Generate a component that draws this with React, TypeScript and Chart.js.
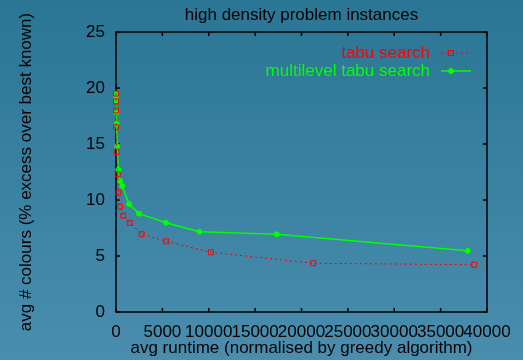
import React, { useEffect, useRef } from "react";
import { Chart, registerables } from "chart.js";

Chart.register(...registerables);

const titleText = "high density problem instances";
const xTitle = "avg runtime (normalised by greedy algorithm)";
const yTitle = "avg # colours (% excess over best known)";

const xTickValues = [0, 5000, 10000, 15000, 20000, 25000, 30000, 35000, 40000];
const yTickValues = [0, 5, 10, 15, 20, 25];

const tabuLabel = "tabu search";
const tabuX = [0, 0, 0, 0, 70, 180, 250, 430, 780, 1470, 2770, 5430, 10240, 21270, 38630];
const tabuY = [19.5, 18.8, 18.0, 16.5, 14.3, 12.3, 10.65, 9.4, 8.6, 7.97, 6.94, 6.31, 5.33, 4.35, 4.22];

const mlLabel = "multilevel tabu search";
const mlX = [0, 0, 0, 30, 70, 140, 250, 430, 680, 1400, 2480, 5390, 9000, 17330, 37920];
const mlY = [19.5, 19.3, 18.9, 17.8, 16.8, 14.8, 12.7, 11.7, 11.25, 9.64, 8.78, 7.97, 7.17, 6.94, 5.47];

const RED = "#ff0000";
const GREEN = "#00ff00";
const FONT = "'Liberation Sans', Arial, Helvetica, sans-serif";

const bgPlugin = {
  id: "bg",
  beforeDraw(chart: any) {
    const { ctx, width, height } = chart;
    const g = ctx.createLinearGradient(0, 0, 0, height);
    g.addColorStop(0, "#2a7694");
    g.addColorStop(1, "#4a8dae");
    ctx.save();
    ctx.fillStyle = g;
    ctx.fillRect(0, 0, width, height);
    ctx.restore();
  },
};

const framePlugin = {
  id: "frame",
  beforeDatasetsDraw(chart: any) {
    const { ctx, chartArea: a, scales } = chart;
    const tl = 4;
    ctx.save();
    ctx.strokeStyle = "#000";
    ctx.lineWidth = 1.5;
    ctx.strokeRect(a.left, a.top, a.right - a.left, a.bottom - a.top);
    ctx.beginPath();
    for (const v of xTickValues) {
      const px = scales.x.getPixelForValue(v);
      ctx.moveTo(px, a.bottom);
      ctx.lineTo(px, a.bottom - tl);
      ctx.moveTo(px, a.top);
      ctx.lineTo(px, a.top + tl);
    }
    for (const v of yTickValues) {
      const py = scales.y.getPixelForValue(v);
      ctx.moveTo(a.left, py);
      ctx.lineTo(a.left + tl, py);
      ctx.moveTo(a.right, py);
      ctx.lineTo(a.right - tl, py);
    }
    ctx.stroke();
    ctx.restore();
  },
  afterDraw(chart: any) {
    const { ctx } = chart;
    ctx.save();
    ctx.font = `17px ${FONT}`;
    ctx.textAlign = "right";
    ctx.textBaseline = "middle";
    const textRight = 430;
    const items = [
      { label: tabuLabel, color: RED, y: 53, dash: [2, 3], width: 1, marker: "rect" },
      { label: mlLabel, color: GREEN, y: 71, dash: [], width: 1.5, marker: "circle" },
    ];
    for (const it of items) {
      ctx.fillStyle = it.color;
      ctx.fillText(it.label, textRight, it.y);
      ctx.strokeStyle = it.color;
      ctx.lineWidth = it.width;
      ctx.setLineDash(it.dash);
      ctx.beginPath();
      ctx.moveTo(441, it.y);
      ctx.lineTo(471, it.y);
      ctx.stroke();
      ctx.setLineDash([]);
      ctx.lineWidth = 1;
      if (it.marker === "rect") {
        ctx.strokeRect(448.5, it.y - 2.5, 5, 5);
      } else {
        ctx.beginPath();
        ctx.arc(451, it.y, 2.5, 0, Math.PI * 2);
        ctx.fill();
        ctx.stroke();
      }
    }
    ctx.restore();
  },
};

export default function App() {
  const ref = useRef<HTMLCanvasElement>(null);
  useEffect(() => {
    document.body.style.margin = "0";
    const canvas = ref.current!;
    const chart = new Chart(canvas, {
      type: "scatter",
      data: {
        datasets: [
          {
            label: tabuLabel,
            data: tabuX.map((x, i) => ({ x, y: tabuY[i] })),
            showLine: true,
            borderColor: RED,
            borderWidth: 1,
            borderDash: [2, 3],
            pointStyle: "rect",
            pointRadius: 3.5,
            pointBorderColor: RED,
            pointBackgroundColor: "rgba(0,0,0,0)",
            pointBorderWidth: 1,
            clip: false as any,
          },
          {
            label: mlLabel,
            data: mlX.map((x, i) => ({ x, y: mlY[i] })),
            showLine: true,
            borderColor: GREEN,
            borderWidth: 1.5,
            pointStyle: "circle",
            pointRadius: 2.5,
            pointBorderColor: GREEN,
            pointBackgroundColor: GREEN,
            pointBorderWidth: 1,
            clip: false as any,
          },
        ],
      },
      options: {
        responsive: false,
        animation: false,
        devicePixelRatio: 1,
        events: [],
        layout: { padding: { left: 0, right: 36, top: 0, bottom: 0 } },
        plugins: {
          legend: { display: false },
          tooltip: { enabled: false },
          title: {
            display: true,
            fullSize: false,
            text: titleText,
            color: "#000",
            font: { family: FONT, size: 17, weight: "normal" },
            padding: { top: 5, bottom: 6.6 },
          },
        },
        scales: {
          x: {
            type: "linear",
            min: 0,
            max: 40000,
            afterBuildTicks: (s: any) => {
              s.ticks = xTickValues.map((v) => ({ value: v }));
            },
            afterFit: (s: any) => {
              s.height = 48;
            },
            ticks: {
              autoSkip: false,
              maxRotation: 0,
              minRotation: 0,
              color: "#000",
              padding: 10,
              font: { family: FONT, size: 17 },
              callback: (v: any) => String(v),
            },
            grid: { display: false, drawTicks: false },
            border: { display: false },
            title: {
              display: true,
              text: xTitle,
              color: "#000",
              font: { family: FONT, size: 17 },
              padding: { top: 0, bottom: 1.8 },
            },
          },
          y: {
            type: "linear",
            min: 0,
            max: 25,
            afterBuildTicks: (s: any) => {
              s.ticks = yTickValues.map((v) => ({ value: v }));
            },
            afterFit: (s: any) => {
              s.width = 116;
            },
            ticks: {
              color: "#000",
              padding: 11,
              font: { family: FONT, size: 17 },
              callback: (v: any) => String(v),
            },
            grid: { display: false, drawTicks: false },
            border: { display: false },
            title: {
              display: true,
              text: yTitle,
              color: "#000",
              font: { family: FONT, size: 17 },
              padding: { top: 16, bottom: 0 },
            },
          },
        },
      },
      plugins: [bgPlugin, framePlugin],
    });
    return () => chart.destroy();
  }, []);
  return (
    <div style={{ position: "absolute", left: 0, top: 0, width: 523, height: 360 }}>
      <canvas ref={ref} width={523} height={360} style={{ display: "block" }} />
    </div>
  );
}
